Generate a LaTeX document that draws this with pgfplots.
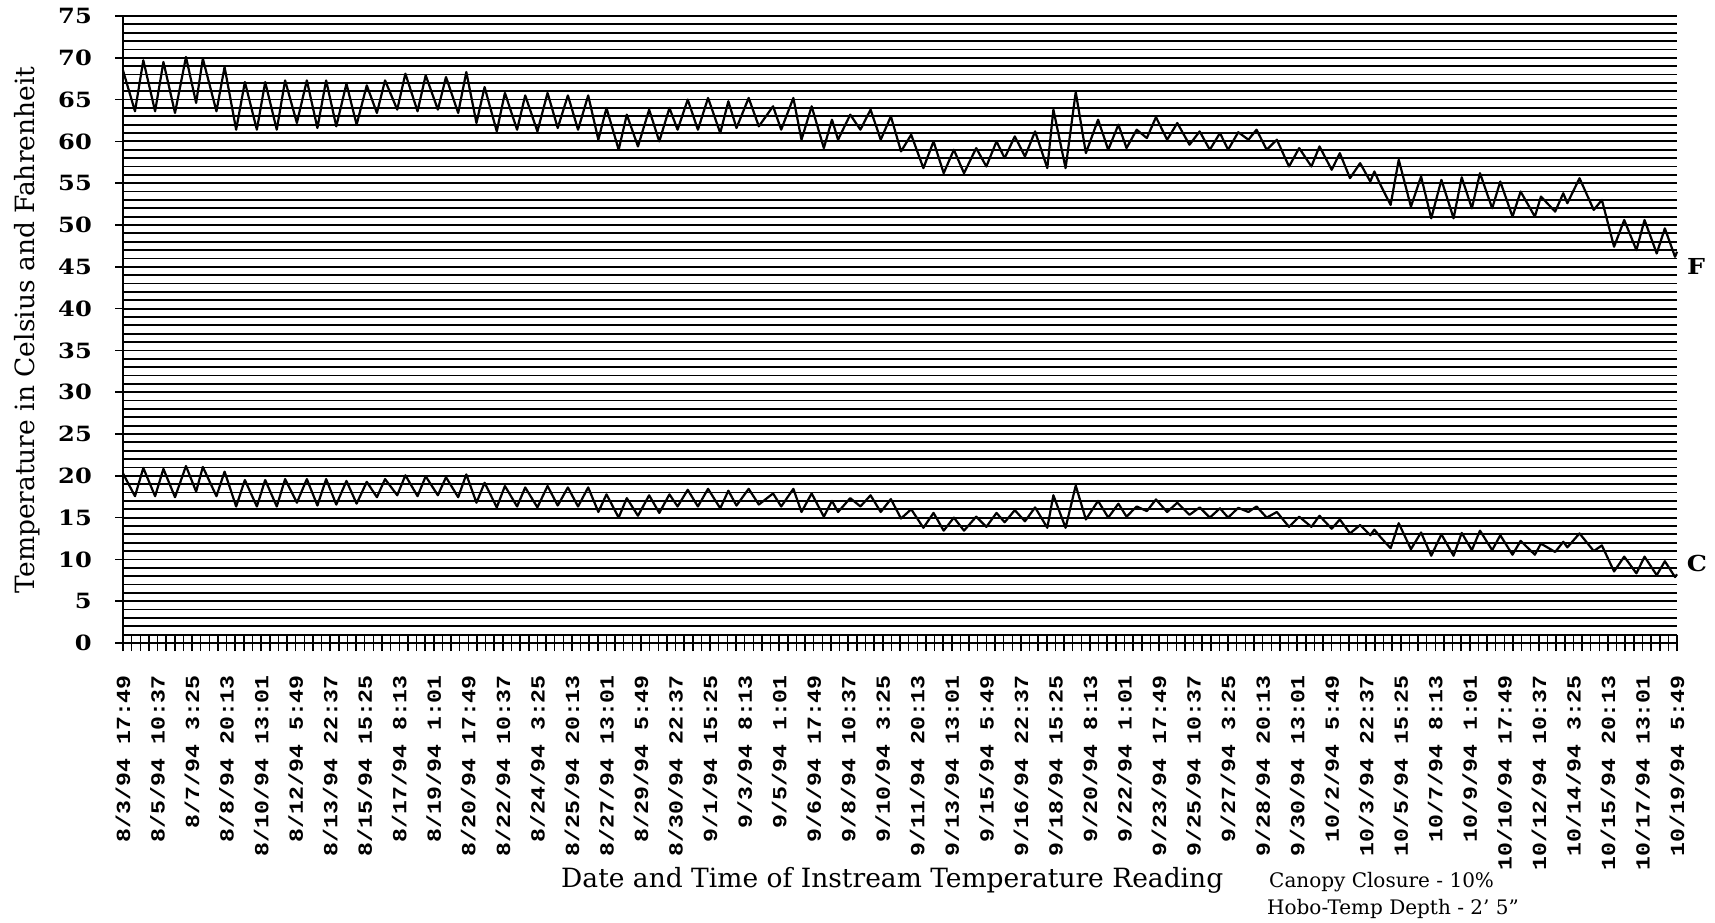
\documentclass[border=0pt]{standalone}
\usepackage{pgfplots}
\pgfplotsset{compat=1.18}
\usepackage{pgfplotstable}
\usepackage{fontspec}
\setmainfont{DejaVu Serif}
\newfontfamily\tickfontfam{DejaVu Serif Bold}[FakeStretch=1.15]
\newfontfamily\xtfontfam{Liberation Mono Bold}[FakeStretch=1.16]
\newcommand\ytfont{\tickfontfam\fontsize{21}{24}\selectfont}
\newcommand\xtfont{\xtfontfam\fontsize{20}{24}\selectfont}
\newcommand\titlefont{\fontsize{26.5}{30}\selectfont}
\newcommand\smallfont{\fontsize{20}{24}\selectfont}
\newcommand\bfont{\tickfontfam\fontsize{22}{26}\selectfont}

\pgfplotstableread{
d F C
0 68.5 20.28
0.59 63.6 17.56
1.0 69.7 20.94
1.58 63.6 17.56
1.99 69.5 20.83
2.56 63.4 17.44
3.1 70.1 21.17
3.6 64.6 18.11
3.93 69.9 21.06
4.6 63.6 17.56
5.0 68.9 20.50
5.57 61.4 16.33
6.0 67.1 19.50
6.59 61.4 16.33
7.0 67.1 19.50
7.57 61.4 16.33
7.98 67.3 19.61
8.56 62.2 16.78
9.05 67.3 19.61
9.57 61.6 16.44
10.0 67.3 19.61
10.5 61.8 16.56
11.0 66.9 19.39
11.5 62.0 16.67
12.0 66.7 19.28
12.5 63.4 17.44
12.9 67.3 19.61
13.5 63.8 17.67
13.9 68.1 20.06
14.5 63.6 17.56
14.9 67.9 19.94
15.5 63.8 17.67
15.9 67.7 19.83
16.5 63.4 17.44
16.9 68.3 20.17
17.4 62.2 16.78
17.8 66.5 19.17
18.4 61.2 16.22
18.8 65.8 18.78
19.4 61.4 16.33
19.8 65.5 18.61
20.4 61.2 16.22
20.9 65.8 18.78
21.4 61.6 16.44
21.9 65.5 18.61
22.4 61.4 16.33
22.9 65.5 18.61
23.4 60.2 15.67
23.8 64.0 17.78
24.4 59.0 15.00
24.8 63.2 17.33
25.35 59.4 15.22
25.9 63.8 17.67
26.4 60.0 15.56
26.9 64.0 17.78
27.3 61.4 16.33
27.8 65.0 18.33
28.3 61.4 16.33
28.8 65.2 18.44
29.4 61.0 16.11
29.8 64.8 18.22
30.2 61.6 16.44
30.8 65.2 18.44
31.3 61.8 16.56
32.0 64.2 17.89
32.4 61.4 16.33
33.0 65.2 18.44
33.4 60.2 15.67
33.9 64.2 17.89
34.5 59.2 15.11
34.9 62.6 17.00
35.2 60.2 15.67
35.8 63.2 17.33
36.3 61.4 16.33
36.8 63.8 17.67
37.3 60.2 15.67
37.8 63.0 17.22
38.3 58.8 14.89
38.8 60.8 16.00
39.4 56.8 13.78
39.9 60.0 15.56
40.4 56.2 13.44
40.9 59.0 15.00
41.4 56.2 13.44
42.0 59.2 15.11
42.5 57.0 13.89
43.0 60.0 15.56
43.4 58.0 14.44
43.9 60.6 15.89
44.4 58.2 14.56
44.9 61.2 16.22
45.5 56.8 13.78
45.8 63.8 17.67
46.4 56.8 13.78
46.9 65.9 18.83
47.4 58.6 14.78
48.0 62.6 17.00
48.5 59.0 15.00
49.0 62.0 16.67
49.4 59.2 15.11
49.9 61.4 16.33
50.4 60.4 15.78
50.85 62.9 17.17
51.4 60.2 15.67
51.9 62.2 16.78
52.5 59.6 15.33
53.0 61.2 16.22
53.5 59.0 15.00
54.0 61.0 16.11
54.4 59.0 15.00
54.9 61.1 16.17
55.4 60.2 15.67
55.8 61.4 16.33
56.3 59.0 15.00
56.8 60.2 15.67
57.4 57.0 13.89
57.9 59.2 15.11
58.5 57.0 13.89
58.9 59.4 15.22
59.5 56.6 13.67
59.9 58.6 14.78
60.4 55.6 13.11
60.9 57.4 14.11
61.4 55.2 12.89
61.6 56.4 13.56
61.9 54.8 12.67
62.4 52.4 11.33
62.8 57.8 14.33
63.4 52.2 11.22
63.9 55.8 13.22
64.4 50.8 10.44
64.9 55.4 13.00
65.5 50.8 10.44
65.9 55.7 13.17
66.4 52.0 11.11
66.8 56.2 13.44
67.4 52.0 11.11
67.8 55.2 12.89
68.4 51.0 10.56
68.8 54.0 12.22
69.5 51.0 10.56
69.8 53.4 11.89
70.5 51.6 10.89
70.9 53.8 12.11
71.1 52.6 11.44
71.7 55.6 13.11
72.4 51.8 11.00
72.8 53.0 11.67
73.4 47.4 8.56
73.9 50.6 10.33
74.5 47.0 8.33
74.9 50.6 10.33
75.5 46.6 8.11
75.9 49.6 9.78
76.4 46.2 7.89
76.5 46.8 8.22
}\temps

\begin{document}
\begin{tikzpicture}[x=1pt,y=1pt]
\useasboundingbox (0,0) rectangle (1715,922);
\begin{axis}[
  at={(123pt,279pt)}, anchor=south west,
  scale only axis, width=1554pt, height=627pt,
  xmin=0, xmax=76.5, ymin=0, ymax=75,
  axis x line*=bottom, axis y line*=left,
  axis line style={black, line width=1.8pt},
  ytick={0,5,...,75},
  yticklabels={0,5,10,15,20,25,30,35,40,45,50,55,60,65,70,75},
  minor y tick num=4,
  ymajorgrids, yminorgrids,
  major grid style={black, line width=1.8pt},
  minor grid style={black, line width=1.8pt},
  xtick={0,1.7,3.4,5.1,6.8,8.5,10.2,11.9,13.6,15.3,17,18.7,20.4,22.1,23.8,25.5,27.2,28.9,30.6,32.3,34,35.7,37.4,39.1,40.8,42.5,44.2,45.9,47.6,49.3,51,52.7,54.4,56.1,57.8,59.5,61.2,62.9,64.6,66.3,68,69.7,71.4,73.1,74.8,76.5},
  xticklabels={8/3/94 17:49,8/5/94 10:37,8/7/94 3:25,8/8/94 20:13,8/10/94 13:01,8/12/94 5:49,8/13/94 22:37,8/15/94 15:25,8/17/94 8:13,8/19/94 1:01,8/20/94 17:49,8/22/94 10:37,8/24/94 3:25,8/25/94 20:13,8/27/94 13:01,8/29/94 5:49,8/30/94 22:37,9/1/94 15:25,9/3/94 8:13,9/5/94 1:01,9/6/94 17:49,9/8/94 10:37,9/10/94 3:25,9/11/94 20:13,9/13/94 13:01,9/15/94 5:49,9/16/94 22:37,9/18/94 15:25,9/20/94 8:13,9/22/94 1:01,9/23/94 17:49,9/25/94 10:37,9/27/94 3:25,9/28/94 20:13,9/30/94 13:01,10/2/94 5:49,10/3/94 22:37,10/5/94 15:25,10/7/94 8:13,10/9/94 1:01,10/10/94 17:49,10/12/94 10:37,10/14/94 3:25,10/15/94 20:13,10/17/94 13:01,10/19/94 5:49},
  extra x ticks={0,0.425,...,76.5},
  extra x tick labels={},
  extra x tick style={grid=none},
  tick align=center,
  major tick length=16pt,
  minor tick length=0pt,
  every tick/.style={black, line width=1.5pt},
  xticklabel style={font=\xtfont, rotate=90, anchor=east, inner sep=0pt},
  yticklabel style={font=\ytfont, anchor=east, inner sep=0pt},
  xticklabel shift=24pt,
  yticklabel shift=23pt,
  clip=false,
]
\addplot[black, line width=2.2pt, line join=round] table[x=d, y=F] {\temps};
\addplot[black, line width=2.2pt, line join=round] table[x=d, y=C] {\temps};
\end{axis}
\node[rotate=90, font=\titlefont, inner sep=0pt] at (27,592) {Temperature in Celsius and Fahrenheit};
\node[anchor=base west, font=\titlefont, inner sep=0pt] at (561,35) {Date and Time of Instream Temperature Reading};
\node[anchor=base west, font=\smallfont, inner sep=0pt] at (1269,35) {Canopy Closure - 10\%};
\node[anchor=base west, font=\smallfont, inner sep=0pt] at (1267,8) {Hobo-Temp Depth - 2' 5"};
\node[font=\bfont, inner sep=0pt] at (1696,656) {F};
\node[font=\bfont, inner sep=0pt] at (1697,359) {C};
\end{tikzpicture}
\end{document}
